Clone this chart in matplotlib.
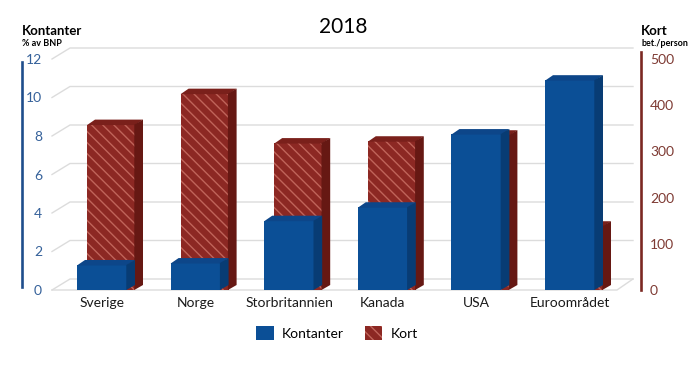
import matplotlib
matplotlib.use('Agg')
import matplotlib.pyplot as plt
from matplotlib.patches import Polygon, Patch
from matplotlib.lines import Line2D
from matplotlib.transforms import IdentityTransform
import numpy as np

# ---------------- data ----------------
categories = ['Sverige', 'Norge', 'Storbritannien', 'Kanada', 'USA', 'Euroområdet']
kontanter = [1.3, 1.4, 3.6, 4.3, 8.1, 10.9]      # % av BNP (left axis)
kort = [358, 425, 318, 322, 335, 138]            # bet./person (right axis)
left_ticks = [0, 2, 4, 6, 8, 10, 12]
right_ticks = [0, 100, 200, 300, 400, 500]
title = '2018'

# ---------------- style ----------------
plt.rcParams['font.family'] = ['Lato', 'DejaVu Sans']
plt.rcParams['hatch.linewidth'] = 1.0

BLUE_FRONT, BLUE_TOP, BLUE_SIDE = '#0b4f96', '#0d4689', '#083c74'
RED_FRONT, RED_TOP, RED_SIDE, RED_HATCH = '#8c2823', '#7a201b', '#661813', '#c0645a'
GRID = '#dcdcdc'
BLUE_AX, RED_AX = '#1f4e8c', '#7b2822'

W, H = 688, 374
fig = plt.figure(figsize=(W / 100, H / 100), dpi=100)

ax_l, ax_r, y0, ytop = 50, 635, 290, 59
ax = fig.add_axes([ax_l / W, (H - y0) / H, (ax_r - ax_l) / W, (y0 - ytop) / H])
ax2 = ax.twinx()
ax.set_zorder(2)
ax2.set_zorder(1)
ax.patch.set_visible(False)
ax2.patch.set_visible(False)

px_per_cat = 93.6
xmin = -(102 - ax_l) / px_per_cat
xmax = xmin + (ax_r - ax_l) / px_per_cat
ax.set_xlim(xmin, xmax)
ax.set_ylim(0, 12)
ax2.set_ylim(0, 500)

for a in (ax, ax2):
    for s in a.spines.values():
        s.set_visible(False)

x = np.arange(len(categories))
wb = 50 / px_per_cat
wk = 48 / px_per_cat
koff = 9 / px_per_cat
DX, DY = 8, 5  # depth offset in pixels

ident = IdentityTransform()

# gridlines on back wall + floor (drawn on lower axes)
for t in left_ticks:
    yd = ax.transData.transform((0, t))[1]
    ax2.add_line(Line2D([ax_l + 2, ax_l + 20, 633], [yd, yd + 11, yd + 11],
                        transform=ident, color=GRID, lw=1.0, clip_on=False, zorder=0))
yb = ax.transData.transform((0, 0))[1]
ax2.add_line(Line2D([ax_l + 2, 617, 633], [yb, yb, yb + 11], transform=ident,
                    color=GRID, lw=1.0, clip_on=False, zorder=0))


def add_3d(a, xc, w, v, top_c, side_c):
    (xl, yb_), (xr, yt) = a.transData.transform([(xc - w / 2, 0), (xc + w / 2, v)])
    top = Polygon([(xl, yt - 0.5), (xr, yt - 0.5), (xr + DX, yt + DY), (xl + DX, yt + DY)],
                  closed=True, transform=ident, facecolor=top_c, edgecolor='none',
                  clip_on=False, zorder=3)
    side = Polygon([(xr - 0.7, yb_), (xr - 0.7, yt), (xr + DX, yt + DY), (xr + DX, yb_ + DY)],
                   closed=True, transform=ident, facecolor=side_c, edgecolor='none',
                   clip_on=False, zorder=3)
    a.add_patch(top)
    a.add_patch(side)


# Kort (behind)
ax2.bar(x + koff, kort, width=wk, color=RED_FRONT, edgecolor=RED_HATCH,
        linewidth=0, hatch='\\\\\\', zorder=3)
for xi, v in zip(x, kort):
    add_3d(ax2, xi + koff, wk, v, RED_TOP, RED_SIDE)

# Kontanter (front)
ax.bar(x, kontanter, width=wb, color=BLUE_FRONT, linewidth=0, zorder=3)
for xi, v in zip(x, kontanter):
    add_3d(ax, xi, wb, v, BLUE_TOP, BLUE_SIDE)

# axes ticks
ax.set_xticks(x, categories)
ax.tick_params(axis='x', length=0, pad=5, labelsize=10, labelcolor='#1a1a1a')
ax.set_yticks(left_ticks)
ax.tick_params(axis='y', length=0, pad=5.8, labelsize=10, labelcolor='#35619a')
ax2.set_yticks(right_ticks)
ax2.tick_params(axis='y', length=0, pad=10.8, labelsize=10, labelcolor='#7e3a33')

# axis lines
fig.add_artist(Line2D([22 / W, 22 / W], [(H - 287) / H, (H - 62) / H], color=BLUE_AX, lw=1.9))
fig.add_artist(Line2D([641 / W, 641 / W], [(H - 290) / H, (H - 52) / H], color=RED_AX, lw=1.9))

# headers
fig.text(22 / W, 1 - 31 / H, 'Kontanter', fontsize=9.5, fontweight='bold', va='center', ha='left')
fig.text(22 / W, 1 - 43 / H, '% av BNP', fontsize=6.5, fontweight='bold', va='center', ha='left')
fig.text(641 / W, 1 - 31 / H, 'Kort', fontsize=9.5, fontweight='bold', va='center', ha='left')
fig.text(641 / W, 1 - 43 / H, 'bet./person', fontsize=6.5, fontweight='bold', va='center', ha='left')
fig.text(343 / W, 1 - 27 / H, title, fontsize=15, va='center', ha='center')

# legend
handles = [Patch(facecolor=BLUE_FRONT, linewidth=0, label='Kontanter'),
           Patch(facecolor=RED_FRONT, edgecolor=RED_HATCH, linewidth=0, hatch='\\\\\\', label='Kort')]
fig.legend(handles=handles, loc='center', bbox_to_anchor=(337 / W, 41 / H), ncol=2,
           frameon=False, fontsize=10, handlelength=1.25, handleheight=1.25,
           handletextpad=0.6, columnspacing=1.5, borderpad=0.2)

fig.savefig('out.png', dpi=100)
